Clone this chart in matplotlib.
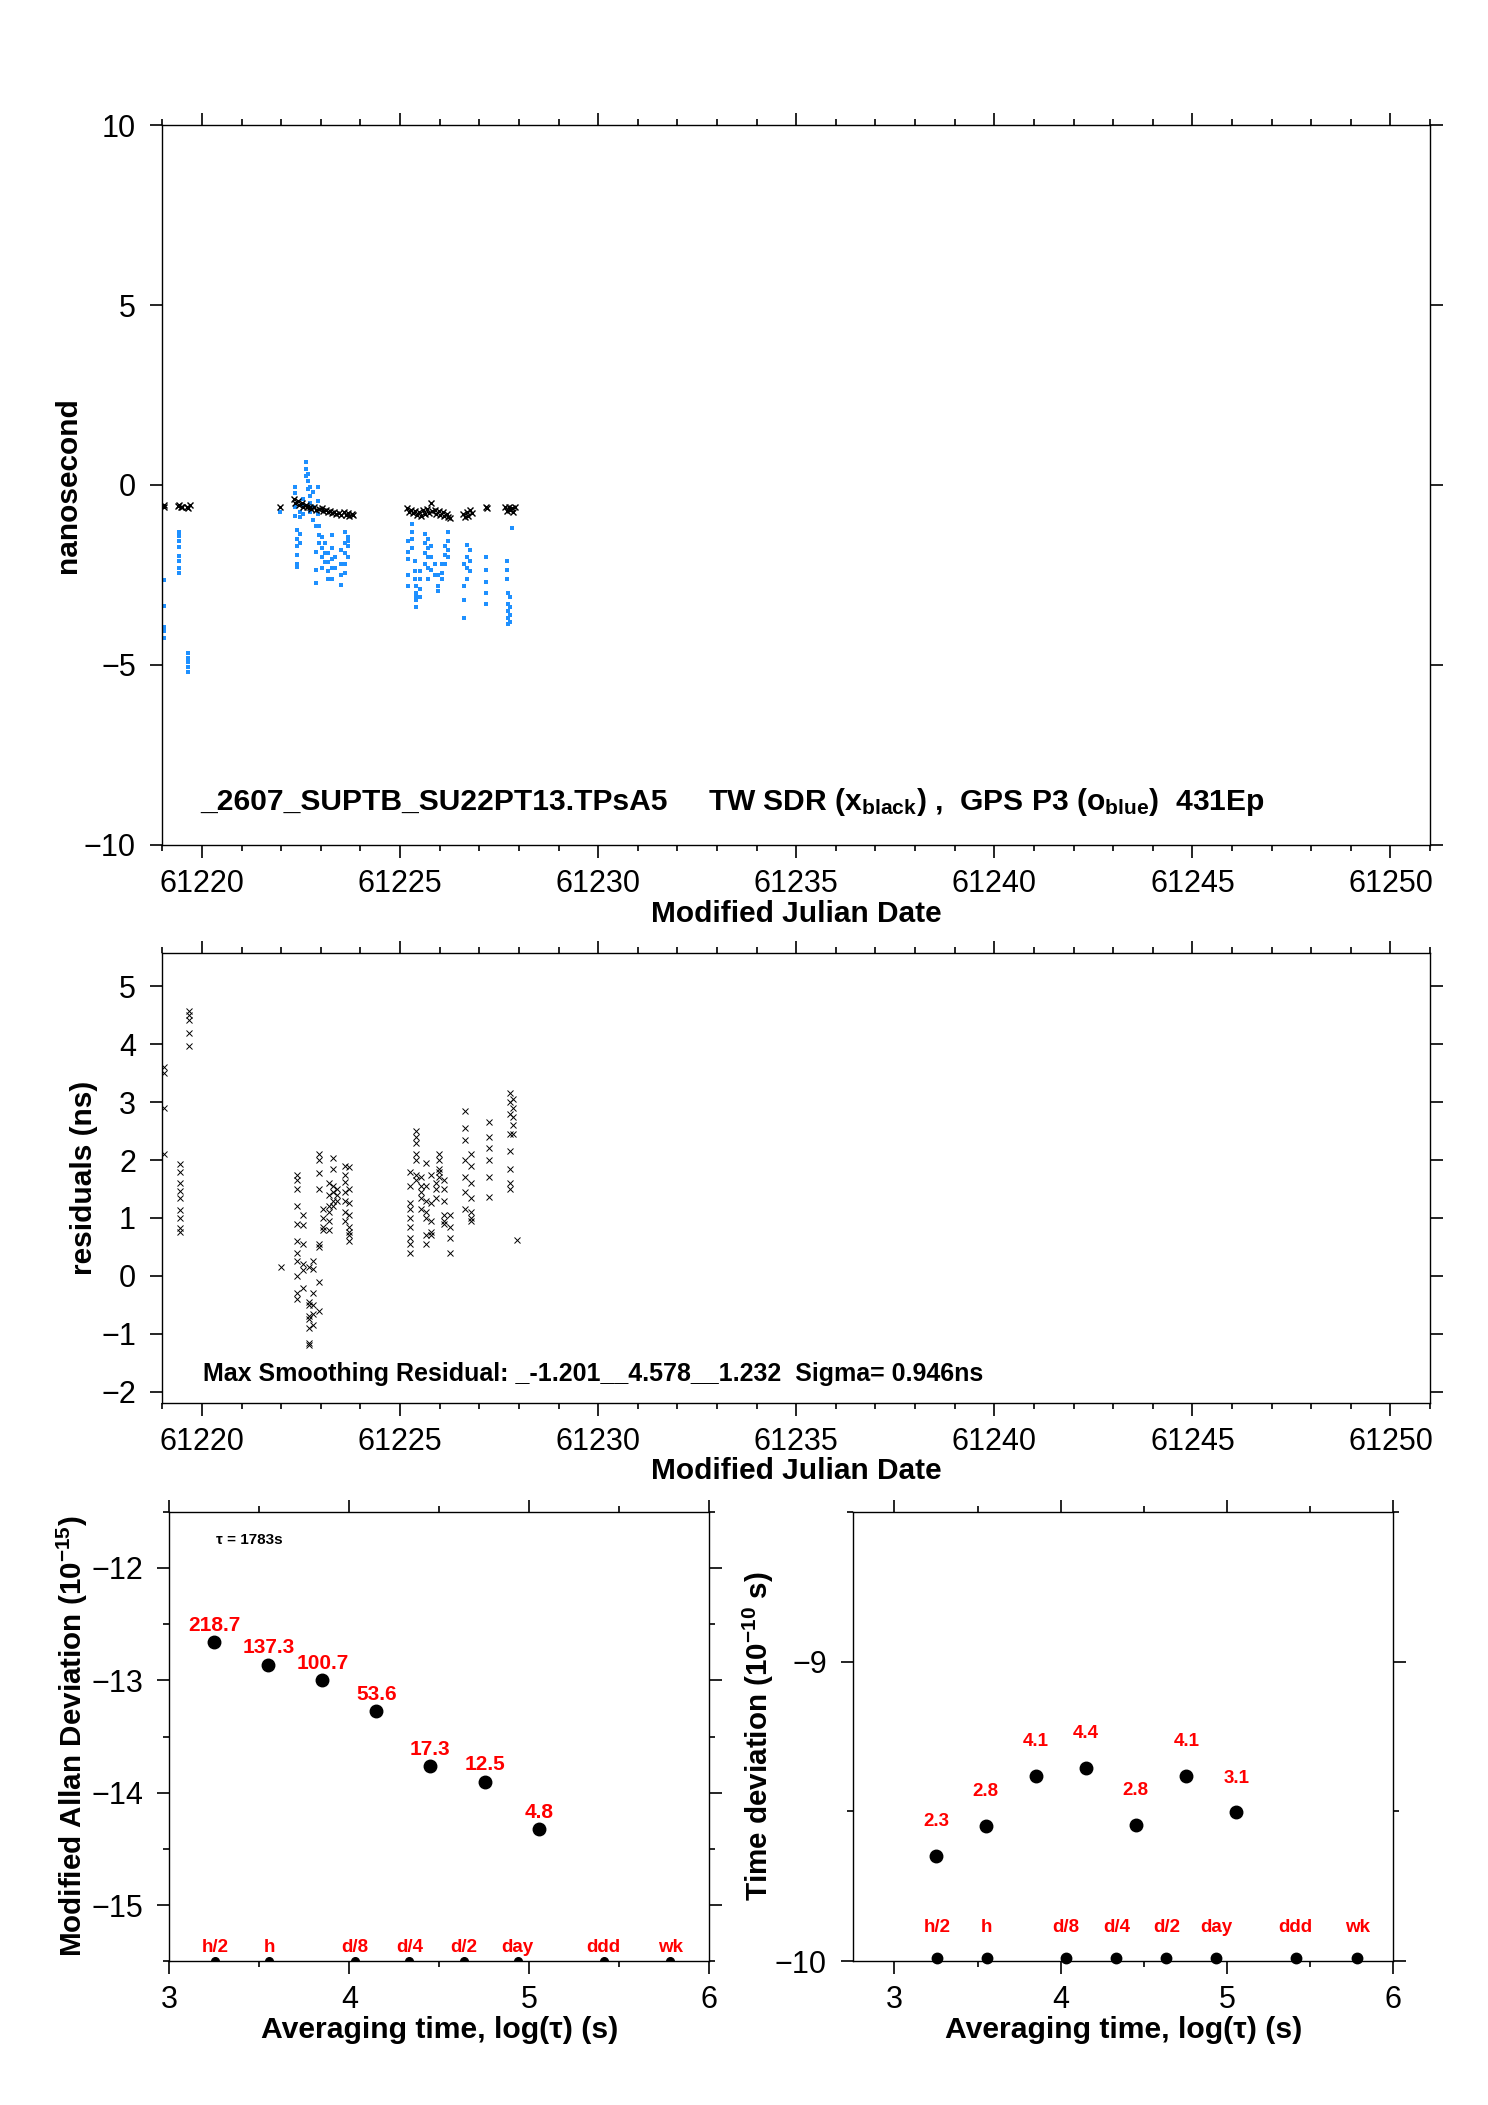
import matplotlib
matplotlib.use("Agg")
import matplotlib.pyplot as plt
from matplotlib.ticker import MultipleLocator
import numpy as np

plt.rcParams['font.family'] = ['Liberation Sans', 'DejaVu Sans']
plt.rcParams['mathtext.fontset'] = 'custom'
plt.rcParams['mathtext.rm'] = 'Liberation Sans'
plt.rcParams['mathtext.bf'] = 'Liberation Sans:bold'
plt.rcParams['mathtext.it'] = 'Liberation Sans:italic'

# ---- top panel: TW SDR (black x) and GPS P3 (blue) in ns ----
tw_mjd = [61219.03, 61219.05, 61219.40, 61219.43, 61219.46, 61219.50, 61219.63, 61219.66, 61219.69, 61221.97,
          61222.33, 61222.36, 61222.42, 61222.45, 61222.52, 61222.55, 61222.62, 61222.66, 61222.72, 61222.76,
          61222.83, 61222.87, 61222.95, 61223.02, 61223.06, 61223.12, 61223.17, 61223.23, 61223.27, 61223.33,
          61223.38, 61223.47, 61223.52, 61223.58, 61223.63, 61223.68, 61223.72, 61223.78, 61223.82,
          61225.18, 61225.22, 61225.28, 61225.32, 61225.38, 61225.42, 61225.48, 61225.52, 61225.58, 61225.62,
          61225.68, 61225.72, 61225.79, 61225.81, 61225.88, 61225.92, 61225.98, 61226.02, 61226.08, 61226.12,
          61226.18, 61226.22, 61226.27,
          61226.60, 61226.64, 61226.68, 61226.72, 61226.77, 61226.81,
          61227.17, 61227.20,
          61227.66, 61227.70, 61227.74, 61227.78, 61227.82, 61227.86, 61227.90]
tw_ns = [-0.55, -0.60, -0.58, -0.55, -0.62, -0.60, -0.60, -0.65, -0.56, -0.60,
         -0.40, -0.50, -0.45, -0.55, -0.50, -0.60, -0.55, -0.62, -0.60, -0.66,
         -0.62, -0.70, -0.66, -0.65, -0.72, -0.70, -0.75, -0.72, -0.78, -0.75,
         -0.80, -0.78, -0.82, -0.76, -0.83, -0.78, -0.85, -0.80, -0.84,
         -0.65, -0.75, -0.70, -0.78, -0.72, -0.82, -0.75, -0.85, -0.70, -0.80,
         -0.68, -0.78, -0.50, -0.72, -0.70, -0.80, -0.72, -0.82, -0.75, -0.85,
         -0.80, -0.90, -0.93,
         -0.80, -0.88, -0.75, -0.85, -0.70, -0.78,
         -0.60, -0.65,
         -0.62, -0.72, -0.60, -0.70, -0.65, -0.75, -0.62]

gps_mjd = [61219.03, 61219.42, 61219.66, 61221.97, 61222.35, 61222.39, 61222.47, 61222.56, 61222.62, 61222.67,
           61222.72, 61222.81, 61222.87, 61222.94, 61222.96, 61223.02, 61223.10, 61223.19, 61223.27, 61223.36,
           61223.51, 61223.60, 61223.68, 61225.21, 61225.29, 61225.37, 61225.41, 61225.50, 61225.62, 61225.71,
           61225.79, 61225.87, 61225.96, 61226.05, 61226.13, 61226.22, 61226.62, 61226.69, 61226.77, 61227.17,
           61227.69, 61227.72, 61227.77, 61227.83]
gps_ns = [[-2.64, -3.35, -3.94, -4.05, -4.24],
          [-1.30, -1.42, -1.55, -1.72, -1.98, -2.10, -2.30, -2.45],
          [-4.68, -4.80, -4.92, -5.05, -5.19],
          [-0.76],
          [-0.05, -0.22, -0.60, -0.85],
          [-1.25, -1.50, -1.70, -1.95, -2.20, -2.27],
          [-1.35, -1.60, -0.75, -0.90],
          [-0.40, -0.55, -0.80],
          [0.65, 0.45, 0.25],
          [0.10, -0.10, 0.30],
          [-0.05, -0.30, -0.50, -0.75],
          [-0.20, -0.60, -0.97],
          [-1.15, -1.85, -2.35, -2.73],
          [-0.05, -0.45, -0.80],
          [-1.15, -1.40, -1.60],
          [-1.45, -1.75, -2.00, -2.30],
          [-1.60, -1.90, -2.15],
          [-1.90, -2.15, -2.40, -2.60],
          [-1.40, -1.75, -2.05, -2.30, -2.60],
          [-2.00, -2.30],
          [-1.80, -2.20, -2.50, -2.78],
          [-1.30, -1.60, -1.90, -2.20, -2.45],
          [-1.45, -1.70, -2.00, -1.55],
          [-1.55, -1.85, -2.05, -2.50, -2.80],
          [-1.07, -1.30, -1.50, -1.75],
          [-2.10, -2.40, -2.60],
          [-2.80, -3.00, -3.20, -3.38, -3.10],
          [-2.90, -3.10, -2.60, -2.40],
          [-1.35, -1.60, -1.90, -2.20],
          [-1.50, -1.75, -2.00, -2.30, -2.60],
          [-1.70, -2.00, -2.35],
          [-2.20, -2.50],
          [-2.50, -2.80, -2.95],
          [-2.20, -2.45, -2.60],
          [-1.70, -1.95, -2.20],
          [-1.30, -1.55, -1.80, -2.00],
          [-2.20, -2.80, -3.20, -3.70],
          [-1.67, -2.00, -2.30, -2.60],
          [-1.80, -2.10, -2.40],
          [-2.00, -2.35, -2.70, -3.00, -3.30],
          [-2.10, -2.35, -2.60],
          [-3.00, -3.30, -3.50, -3.70, -3.85],
          [-3.10, -3.40, -3.60, -3.80],
          [-1.20]]

# ---- middle panel: smoothing residuals (ns) ----
res_mjd = [61219.04, 61219.44, 61219.68, 61222.00, 61222.39, 61222.55, 61222.69, 61222.80, 61222.95, 61223.05,
           61223.20, 61223.30, 61223.40, 61223.60, 61223.72, 61225.25, 61225.40, 61225.52, 61225.65, 61225.78,
           61225.90, 61225.98, 61226.10, 61226.25, 61226.65, 61226.80, 61227.25, 61227.77, 61227.84, 61227.94]
res_ns = [[3.6, 3.5, 2.9, 2.1],
          [1.93, 1.8, 1.6, 1.47, 1.35, 1.13, 1.0, 0.83, 0.76],
          [4.58, 4.5, 4.42, 4.2, 3.97],
          [0.15],
          [1.75, 1.65, 1.5, 1.2, 0.9, 0.6, 0.4, 0.25, 0.0, -0.3, -0.4],
          [1.05, 0.88, 0.55, 0.2, 0.1, -0.2],
          [0.15, -0.45, -0.5, -0.7, -0.75, -0.9, -1.15, -1.2],
          [0.25, 0.12, -0.3, -0.5, -0.65, -0.85],
          [2.1, 2.0, 1.78, 1.5, 0.5, 0.55, -0.1, -0.6],
          [1.15, 1.0, 0.85, 0.8],
          [1.6, 1.4, 1.2, 1.1, 0.95, 0.8],
          [2.03, 1.85, 1.55, 1.45, 1.3, 1.2],
          [1.5, 1.4, 1.3],
          [1.9, 1.75, 1.62, 1.45, 1.3, 1.1, 0.95],
          [1.88, 1.5, 1.25, 1.05, 0.85, 0.75, 0.7, 0.6],
          [1.8, 1.55, 1.25, 1.15, 1.0, 0.85, 0.65, 0.55, 0.4],
          [2.5, 2.4, 2.3, 2.1, 2.0, 1.75, 1.65],
          [1.7, 1.55, 1.45, 1.35, 1.15],
          [1.95, 1.55, 1.3, 1.1, 1.0, 0.7, 0.55],
          [1.75, 1.25, 0.95, 0.75, 0.7],
          [1.6, 1.5, 1.35],
          [2.1, 2.0, 1.85, 1.8, 1.7],
          [1.65, 1.5, 1.3, 1.05, 0.95, 0.9],
          [1.05, 0.85, 0.65, 0.4],
          [2.85, 2.55, 2.35, 2.0, 1.7, 1.45, 1.15],
          [2.1, 1.9, 1.6, 1.35, 1.1, 1.0, 0.95],
          [2.65, 2.4, 2.2, 2.0, 1.7, 1.37],
          [3.15, 3.0, 2.8, 2.45, 2.15, 1.85, 1.6, 1.5],
          [3.05, 2.9, 2.75, 2.6, 2.45],
          [0.62]]

# ---- bottom panels ----
log_tau = [3.25, 3.55, 3.85, 4.15, 4.45, 4.755, 5.055]
mdev_log = [-12.66, -12.86, -13.0, -13.27, -13.76, -13.90, -14.32]
mdev_n = ["218.7", "137.3", "100.7", "53.6", "17.3", "12.5", "4.8"]
tdev_log = [-9.647, -9.549, -9.382, -9.354, -9.545, -9.382, -9.503]
tdev_n = ["2.3", "2.8", "4.1", "4.4", "2.8", "4.1", "3.1"]
span_pos = [3.255, 3.556, 4.033, 4.334, 4.635, 4.936, 5.413, 5.782]
span_names = ["h/2", "h", "d/8", "d/4", "d/2", "day", "ddd", "wk"]


def flatten(xs, groups):
    x, y = [], []
    for xv, g in zip(xs, groups):
        x += [xv] * len(g)
        y += g
    return x, y


def style(ax):
    ax.tick_params(which='both', direction='out', top=True, right=True,
                   labelsize=22, width=1.2)
    ax.tick_params(which='major', length=9)
    ax.tick_params(which='minor', length=4.5)
    ax.tick_params(axis='x', pad=8)
    ax.tick_params(axis='y', pad=10)
    for s in ax.spines.values():
        s.set_linewidth(1.0)


fig = plt.figure(figsize=(14.88, 21.05), dpi=100)
ax1 = fig.add_axes([0.1091, 0.5986, 0.852, 0.342])
ax2 = fig.add_axes([0.1091, 0.3333, 0.852, 0.2139])
ax3 = fig.add_axes([0.1138, 0.0682, 0.3629, 0.2137])
ax4 = fig.add_axes([0.5735, 0.0682, 0.3629, 0.2137])

# top
gx, gy = flatten(gps_mjd, gps_ns)
ax1.plot(gx, gy, linestyle='none', marker='s', ms=2.5, mew=0, color='#1e90ff')
ax1.plot(tw_mjd, tw_ns, linestyle='none', marker='x', ms=4.5, mew=1.0, color='black')
ax1.set_xlim(61219, 61251)
ax1.set_ylim(-10, 10)
ax1.xaxis.set_major_locator(MultipleLocator(5))
ax1.xaxis.set_minor_locator(MultipleLocator(1))
ax1.yaxis.set_major_locator(MultipleLocator(5))
style(ax1)
ax1.set_xlabel("Modified Julian Date", fontsize=21.5, fontweight='bold', va='baseline')
ax1.xaxis.set_label_coords(0.5, -0.107)
ax1.set_ylabel("nanosecond", fontsize=21.5, fontweight='bold', va='center')
ax1.yaxis.set_label_coords(-0.0744, 0.5)
ax1.text(61219.95, -9.03, "_2607_SUPTB_SU22PT13.TPsA5", fontsize=21.6, fontweight='bold', va='baseline')
ax1.text(61232.77, -9.03, r"TW SDR (x$_{\mathbf{black}}$) ,  GPS P3 (o$_{\mathbf{blue}}$)  431Ep",
         fontsize=21.6, fontweight='bold', va='baseline')

# middle
rx, ry = flatten(res_mjd, res_ns)
ax2.plot(rx, ry, linestyle='none', marker='x', ms=5, mew=0.7, color='black')
ax2.set_xlim(61219, 61251)
ax2.set_ylim(-2.2, 5.57)
ax2.xaxis.set_major_locator(MultipleLocator(5))
ax2.xaxis.set_minor_locator(MultipleLocator(1))
ax2.yaxis.set_major_locator(MultipleLocator(1))
style(ax2)
ax2.set_xlabel("Modified Julian Date", fontsize=21.5, fontweight='bold', va='baseline')
ax2.xaxis.set_label_coords(0.5, -0.169)
ax2.set_ylabel("residuals (ns)", fontsize=21.5, fontweight='bold', va='center')
ax2.yaxis.set_label_coords(-0.0618, 0.5)
ax2.text(61220.02, -1.815, "Max Smoothing Residual: _-1.201__4.578__1.232  Sigma= 0.946ns",
         fontsize=18, fontweight='bold', va='baseline')

# bottom left: modified Allan deviation
ax3.plot(log_tau, mdev_log, linestyle='none', marker='o', ms=9, color='black')
for x, y, s in zip(log_tau, mdev_log, mdev_n):
    ax3.annotate(s, (x, y), xytext=(0, 8), textcoords='offset points', ha='center',
                 va='baseline', color='red', fontsize=15, fontweight='bold')
ax3.plot(span_pos, [-15.5] * len(span_pos), linestyle='none', marker='o', ms=5.5, color='black')
for x, s in zip(span_pos, span_names):
    ax3.annotate(s, (x, -15.5), xytext=(0, 7), textcoords='offset points', ha='center',
                 va='baseline', color='red', fontsize=13.5, fontweight='bold')
ax3.text(3.258, -11.756, "τ = 1783s", fontsize=11, fontweight='bold', va='center')
ax3.set_xlim(3, 6)
ax3.set_ylim(-15.5, -11.5)
ax3.xaxis.set_major_locator(MultipleLocator(1))
ax3.xaxis.set_minor_locator(MultipleLocator(0.5))
ax3.yaxis.set_major_locator(MultipleLocator(1))
ax3.yaxis.set_minor_locator(MultipleLocator(0.5))
style(ax3)
ax3.set_xlabel("Averaging time, log(τ) (s)", fontsize=21.7, fontweight='bold', va='baseline')
ax3.xaxis.set_label_coords(0.5, -0.17)
ax3.set_ylabel(r"Modified Allan Deviation (10$^{\mathbf{-15}}$)", fontsize=21.3, fontweight='bold', va='center')
ax3.yaxis.set_label_coords(-0.179, 0.5)

# bottom right: time deviation
ax4.plot(log_tau, tdev_log, linestyle='none', marker='o', ms=9, color='black')
for x, y, s in zip(log_tau, tdev_log, tdev_n):
    ax4.annotate(s, (x, y), xytext=(0, 21.5), textcoords='offset points', ha='center',
                 va='baseline', color='red', fontsize=13.5, fontweight='bold')
ax4.plot(span_pos, [-9.987] * len(span_pos), linestyle='none', marker='o', ms=7.5,
         color='black', clip_on=False)
for x, s in zip(span_pos, span_names):
    ax4.annotate(s, (x, -10), xytext=(0, 21.5), textcoords='offset points', ha='center',
                 va='baseline', color='red', fontsize=13.5, fontweight='bold')
ax4.set_xlim(2.753, 6)
ax4.set_ylim(-10, -8.5)
ax4.xaxis.set_major_locator(MultipleLocator(1))
ax4.xaxis.set_minor_locator(MultipleLocator(0.5))
ax4.yaxis.set_major_locator(MultipleLocator(1))
ax4.yaxis.set_minor_locator(MultipleLocator(0.5))
style(ax4)
ax4.set_xlabel("Averaging time, log(τ) (s)", fontsize=21.7, fontweight='bold', va='baseline')
ax4.xaxis.set_label_coords(0.5, -0.17)
ax4.set_ylabel(r"Time deviation (10$^{\mathbf{-10}}$ s)", fontsize=21.3, fontweight='bold', va='center')
ax4.yaxis.set_label_coords(-0.176, 0.5)

fig.savefig("out.png", dpi=100)
